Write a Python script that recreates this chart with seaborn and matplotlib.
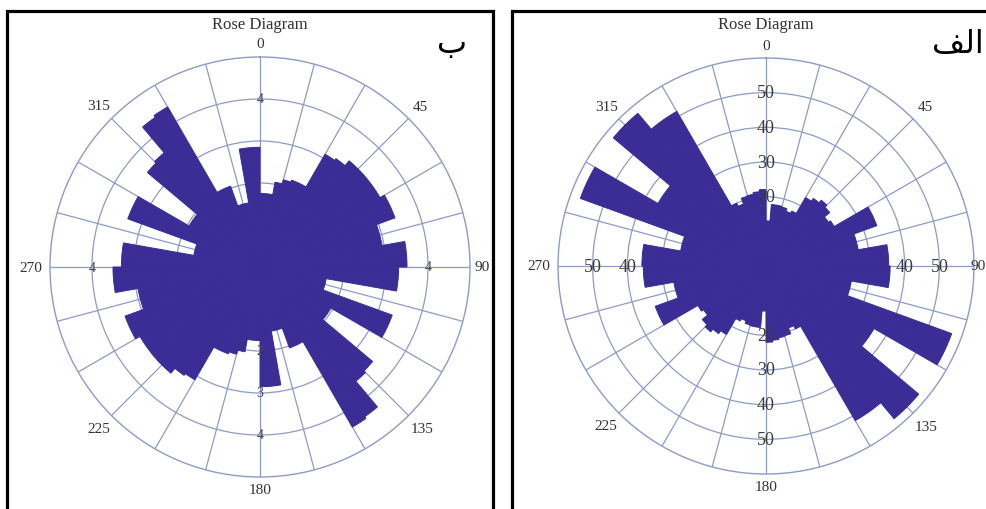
import numpy as np
import pandas as pd
import matplotlib
matplotlib.use("Agg")
import matplotlib.pyplot as plt
from matplotlib.patches import Rectangle
import seaborn as sns

# 5-degree direction classes (start of each class, degrees clockwise from north)
BIN_START = list(range(0, 360, 5))

# Panel "ب" (left): class frequencies
LEFT_COUNTS = [
    1.75, 1.75, 2.05, 2.15, 2.2, 2.2, 3.1, 3.15, 3.3, 3.3, 3.3, 3.3,
    3.42, 3.42, 2.95, 2.95, 3.5, 3.5, 3.3, 3.3, 1.6, 1.6, 3.35, 3.35,
    1.95, 1.95, 3.5, 3.55, 4.35, 4.4, 2.05, 2.05, 1.55, 1.55, 2.85, 2.85,
    1.75, 1.75, 2.05, 2.15, 2.2, 2.2, 3.1, 3.15, 3.3, 3.3, 3.3, 3.3,
    3.42, 3.42, 2.95, 2.95, 3.5, 3.5, 3.3, 3.3, 1.6, 1.6, 3.35, 3.35,
    1.95, 1.95, 3.5, 3.55, 4.35, 4.4, 2.05, 2.05, 1.55, 1.55, 2.85, 2.85,
]

# Panel "الف" (right): class frequencies
RIGHT_COUNTS = [
    13.0, 17.8, 17.8, 17.6, 16.8, 17.5, 22.8, 23.8, 24.8, 24.0, 22.0, 22.7,
    34.0, 34.0, 27.0, 27.0, 35.4, 35.4, 35.8, 35.8, 25.0, 25.0, 57.0, 57.0,
    36.0, 36.0, 57.5, 57.5, 51.5, 51.5, 20.0, 19.0, 20.8, 21.0, 21.5, 22.0,
    13.0, 17.8, 17.8, 17.6, 16.8, 17.5, 22.8, 23.8, 24.8, 24.0, 22.0, 22.7,
    34.0, 34.0, 27.0, 27.0, 35.4, 35.4, 35.8, 35.8, 25.0, 25.0, 57.0, 57.0,
    36.0, 36.0, 57.5, 57.5, 51.5, 51.5, 20.0, 19.0, 20.8, 21.0, 21.5, 22.0,
]

DIRECTION_TICKS = [0, 45, 90, 135, 180, 225, 270, 315]
DIRECTION_LABELS = ["0", "45", "90", "135", "180", "225", "270", "315"]

LEFT_RINGS = [1, 2, 3, 4]
LEFT_RMAX = 5
LEFT_RING_LABELS = {0: [4], 90: [4], 270: [4], 180: [2, 3, 4]}

RIGHT_RINGS = [10, 20, 30, 40, 50]
RIGHT_RMAX = 60
RIGHT_RING_LABELS = {0: [20, 30, 40, 50], 180: [20, 30, 40, 50],
                     90: [40, 50], 270: [50, 40]}

TITLE = "Rose Diagram"
LEFT_TAG = "ب"
# "الف" in Arabic presentation forms, visual order (no text shaping in matplotlib)
RIGHT_TAG = "\ufed2\ufedf\ufe8d"

BAR_COLOR = "#3b2c96"
GRID_COLOR = "#8d9bc9"
TEXT_COLOR = "#333333"

sns.set_theme(style="white")
plt.rcParams["font.family"] = ["Liberation Serif", "DejaVu Serif"]

W, H = 987, 510
fig = plt.figure(figsize=(W / 100, H / 100), dpi=100)
fig.patch.set_facecolor("white")

# pixel offsets of direction labels beyond the outer circle
LABEL_PAD = {0: 13, 45: 17, 90: 12, 135: 19, 180: 13, 225: 18, 270: 19, 315: 18}


def rose(cx, cy, R, counts, rings, rmax, ring_labels, ring_fs, ring_color,
         east_label_x=None):
    ax = fig.add_axes([(cx - R) / W, (H - cy - R) / H, 2 * R / W, 2 * R / H],
                      projection="polar")
    df = pd.DataFrame({
        "theta": np.deg2rad(np.array(BIN_START, dtype=float) + 2.5),
        "count": counts,
    })
    sns.barplot(data=df, x="theta", y="count", native_scale=True, width=1.0,
                color=BAR_COLOR, saturation=1, errorbar=None,
                edgecolor=BAR_COLOR, linewidth=0.7, ax=ax, zorder=2)
    ax.set_theta_zero_location("N")
    ax.set_theta_direction(-1)
    ax.set_ylim(0, rmax)
    ax.set_thetagrids(np.arange(0, 360, 15), labels=[""] * 24)
    ax.set_rgrids(rings, labels=[""] * len(rings))
    ax.grid(True, color=GRID_COLOR, linewidth=0.9)
    ax.set_axisbelow(True)
    ax.spines["polar"].set_color(GRID_COLOR)
    ax.spines["polar"].set_linewidth(1.0)
    ax.tick_params(length=0)
    ax.set_xlabel("")
    ax.set_ylabel("")
    ax.set_facecolor("white")

    for ang, lab in zip(DIRECTION_TICKS, DIRECTION_LABELS):
        if ang == 90 and east_label_x is not None:
            # keep the east label inside the figure edge
            fig.text(east_label_x / W, 1 - cy / H, lab, ha="right",
                     va="center", fontsize=11, color=TEXT_COLOR)
            continue
        r = rmax * (1 + LABEL_PAD[ang] / R)
        ax.text(np.deg2rad(ang), r, lab, ha="center", va="center",
                fontsize=11, color=TEXT_COLOR, clip_on=False)

    for ang, vals in ring_labels.items():
        for v in vals:
            ax.text(np.deg2rad(ang), v, str(v), ha="center", va="center",
                    fontsize=ring_fs, color=ring_color, zorder=5,
                    clip_on=False)

    fig.text(cx / W, 1 - 25 / H, TITLE, ha="center", va="center",
             fontsize=12, color=TEXT_COLOR)
    return ax


rose(260, 268, 210, LEFT_COUNTS, LEFT_RINGS, LEFT_RMAX, LEFT_RING_LABELS,
     10, "#444444")
rose(766, 267, 208, RIGHT_COUNTS, RIGHT_RINGS, RIGHT_RMAX, RIGHT_RING_LABELS,
     13, "#3a3a3a", east_label_x=986)

fig.text(452 / W, 1 - 44 / H, LEFT_TAG, ha="center", va="center",
         fontsize=23, family="DejaVu Sans", color="black")
fig.text(984 / W, 1 - 44 / H, RIGHT_TAG, ha="right", va="center",
         fontsize=23, family="DejaVu Sans", color="black")

# panel frames
for x0, x1 in [(7, 493), (512, 1010)]:
    fig.add_artist(Rectangle((x0 / W, -0.05), (x1 - x0) / W, 1.05 - 12 / H,
                             transform=fig.transFigure, fill=False,
                             edgecolor="black", linewidth=2.3))

fig.savefig("out.png", dpi=100, facecolor="white")
